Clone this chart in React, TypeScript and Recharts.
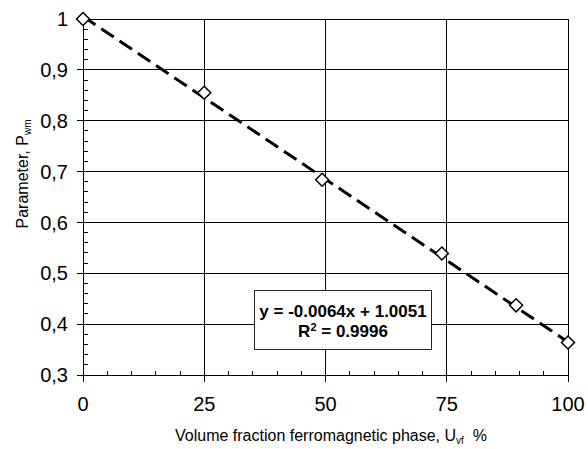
import React from 'react';
import { ScatterChart, Scatter, XAxis, YAxis, CartesianGrid } from 'recharts';

const volumeFraction = [0, 25, 49.3, 74, 89.3, 100];
const parameterPwm = [1, 0.855, 0.684, 0.539, 0.437, 0.364];

const xTicks = [0, 25, 50, 75, 100];
const xMinorTicks = [5, 10, 15, 20, 30, 35, 40, 45, 55, 60, 65, 70, 80, 85, 90, 95];
const yTicks = [0.3, 0.4, 0.5, 0.6, 0.7, 0.8, 0.9, 1];
const yMinorTicks = [
  0.32, 0.34, 0.36, 0.38, 0.42, 0.44, 0.46, 0.48, 0.52, 0.54, 0.56, 0.58,
  0.62, 0.64, 0.66, 0.68, 0.72, 0.74, 0.76, 0.78, 0.82, 0.84, 0.86, 0.88,
  0.92, 0.94, 0.96, 0.98,
];

// linear trend shown in the box
const trendSlope = -0.0064;
const trendIntercept = 1.0051;
const trendR2 = 0.9996;
const trendRange = [0, 100];

const FONT = '"Liberation Sans", Arial, sans-serif';

const points = volumeFraction.map((x, i) => ({ x, y: parameterPwm[i] }));
const trend = trendRange.map((x) => ({ x, y: trendSlope * x + trendIntercept }));

const Diamond = (props: any) => {
  const { cx, cy } = props;
  const r = 6.5;
  return (
    <path
      d={`M${cx},${cy - r}L${cx + r},${cy}L${cx},${cy + r}L${cx - r},${cy}Z`}
      fill="#fff"
      stroke="#000"
      strokeWidth={1.5}
    />
  );
};

const NoLabel = () => <g />;

const fmtComma = (v: number) => String(Math.round(v * 10) / 10).replace('.', ',');

export default function App() {
  return (
    <div
      style={{
        position: 'absolute',
        left: 0,
        top: 0,
        width: 588,
        height: 449,
        background: '#fff',
        fontFamily: FONT,
      }}
    >
      <ScatterChart width={588} height={449} margin={{ top: 19, right: 20, bottom: 0, left: 0 }}>
        <CartesianGrid stroke="#000" strokeWidth={1} shapeRendering="crispEdges" />
        <XAxis
          type="number"
          dataKey="x"
          domain={[0, 100]}
          ticks={xTicks}
          interval={0}
          height={74}
          tickSize={7}
          tickMargin={15}
          axisLine={{ stroke: '#000', shapeRendering: 'crispEdges' }}
          tickLine={{ stroke: '#000', shapeRendering: 'crispEdges' }}
          tick={{ fill: '#000', fontSize: 20, fontFamily: FONT }}
        />
        <XAxis
          xAxisId="minor"
          type="number"
          dataKey="x"
          domain={[0, 100]}
          ticks={xMinorTicks}
          interval={0}
          mirror
          tickSize={4}
          axisLine={false}
          tickLine={{ stroke: '#000', shapeRendering: 'crispEdges' }}
          tick={NoLabel}
        />
        <YAxis
          type="number"
          dataKey="y"
          domain={[0.3, 1]}
          ticks={yTicks}
          interval={0}
          width={83}
          tickSize={6}
          tickMargin={9}
          tickFormatter={fmtComma}
          axisLine={{ stroke: '#000', shapeRendering: 'crispEdges' }}
          tickLine={{ stroke: '#000', shapeRendering: 'crispEdges' }}
          tick={{ fill: '#000', fontSize: 20, fontFamily: FONT }}
        />
        <YAxis
          yAxisId="minor"
          type="number"
          dataKey="y"
          domain={[0.3, 1]}
          ticks={yMinorTicks}
          interval={0}
          mirror
          tickSize={5}
          axisLine={false}
          tickLine={{ stroke: '#000', shapeRendering: 'crispEdges' }}
          tick={NoLabel}
        />
        <YAxis yAxisId="trend" type="number" dataKey="y" domain={[0.3, 1]} allowDataOverflow hide />
        {/* invisible series so the minor-tick axes get a scale */}
        <Scatter
          data={points}
          xAxisId="minor"
          yAxisId="minor"
          isAnimationActive={false}
          shape={NoLabel}
        />
        <Scatter
          data={trend}
          yAxisId="trend"
          isAnimationActive={false}
          shape={NoLabel}
          line={{ stroke: '#000', strokeWidth: 3, strokeDasharray: '15 7' }}
        />
        <Scatter data={points} isAnimationActive={false} shape={<Diamond />} />
      </ScatterChart>

      {/* trendline equation box */}
      <div
        style={{
          position: 'absolute',
          left: 254,
          top: 290,
          width: 176,
          height: 58,
          border: '1px solid #222',
          background: '#fff',
          boxSizing: 'content-box',
          textAlign: 'center',
          fontWeight: 'bold',
          fontSize: 17,
          lineHeight: '20px',
        }}
      >
        <div style={{ paddingTop: 11 }}>
          y = {trendSlope.toFixed(4)}x + {trendIntercept.toFixed(4)}
        </div>
        <div>
          R<sup style={{ fontSize: 11, lineHeight: 0, verticalAlign: '6px' }}>2</sup> = {trendR2.toFixed(4)}
        </div>
      </div>

      {/* x axis title */}
      <div
        style={{
          position: 'absolute',
          left: 131,
          top: 428,
          width: 400,
          textAlign: 'center',
          fontSize: 16,
          lineHeight: '16px',
          whiteSpace: 'nowrap',
        }}
      >
        Volume fraction ferromagnetic phase, U
        <sub style={{ fontSize: 10, lineHeight: 0, verticalAlign: '-3px' }}>vf</sub>
        {'\u00a0 %'}
      </div>

      {/* y axis title */}
      <div
        style={{
          position: 'absolute',
          left: 23 - 100,
          top: 174 - 8,
          width: 200,
          textAlign: 'center',
          fontSize: 16,
          lineHeight: '16px',
          whiteSpace: 'nowrap',
          transform: 'rotate(-90deg)',
        }}
      >
        Parameter, P
        <sub style={{ fontSize: 10, lineHeight: 0, verticalAlign: '-3px' }}>wm</sub>
      </div>
    </div>
  );
}
